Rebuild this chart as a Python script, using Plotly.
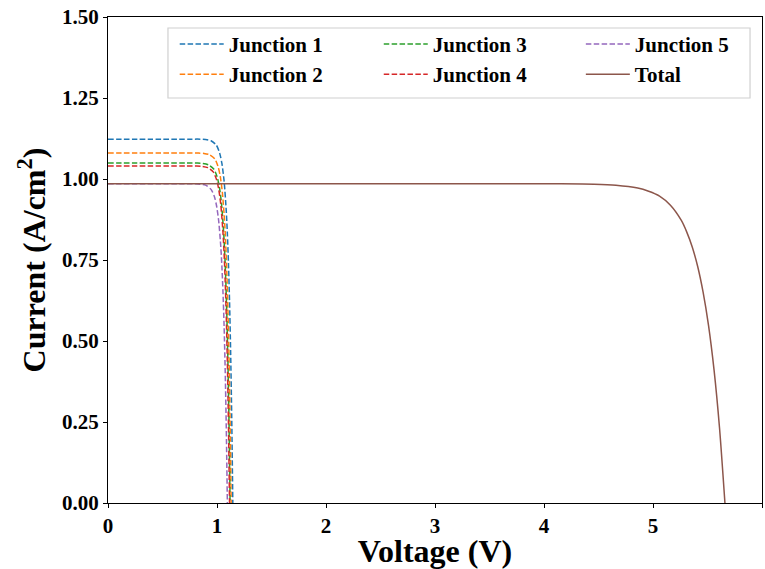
import plotly.graph_objects as go

# Junction I-V data
j1_v = [0, 0.745, 0.845, 0.895, 0.945, 0.995, 1.025, 1.045, 1.065, 1.085, 1.095, 1.105, 1.115, 1.125, 1.135, 1.145]
j1_i = [1.123, 1.123, 1.123, 1.122, 1.118, 1.104, 1.079, 1.048, 0.994, 0.901, 0.832, 0.741, 0.623, 0.468, 0.266, 0]
j2_v = [0, 0.73, 0.83, 0.88, 0.93, 0.98, 1.01, 1.03, 1.05, 1.07, 1.08, 1.09, 1.10, 1.11, 1.12, 1.13]
j2_i = [1.080, 1.080, 1.080, 1.079, 1.075, 1.062, 1.038, 1.008, 0.956, 0.866, 0.800, 0.713, 0.599, 0.450, 0.256, 0]
j3_v = [0, 0.72, 0.82, 0.87, 0.92, 0.97, 1.00, 1.02, 1.04, 1.06, 1.07, 1.08, 1.09, 1.10, 1.11, 1.12]
j3_i = [1.049, 1.049, 1.049, 1.048, 1.044, 1.031, 1.008, 0.979, 0.928, 0.841, 0.777, 0.692, 0.582, 0.437, 0.249, 0]
j4_v = [0, 0.715, 0.815, 0.865, 0.915, 0.965, 0.995, 1.015, 1.035, 1.055, 1.065, 1.075, 1.085, 1.095, 1.105, 1.115]
j4_i = [1.040, 1.040, 1.040, 1.039, 1.035, 1.022, 0.999, 0.970, 0.920, 0.834, 0.771, 0.686, 0.577, 0.434, 0.246, 0]
j5_v = [0, 0.695, 0.795, 0.845, 0.895, 0.945, 0.975, 0.995, 1.015, 1.035, 1.045, 1.055, 1.065, 1.075, 1.085, 1.095]
j5_i = [0.985, 0.985, 0.985, 0.984, 0.981, 0.968, 0.947, 0.919, 0.872, 0.790, 0.730, 0.650, 0.547, 0.411, 0.233, 0]
tot_v = [0, 4.16, 4.46, 4.66, 4.86, 4.96, 5.06, 5.16, 5.26, 5.31, 5.36, 5.41, 5.46, 5.51, 5.56, 5.61, 5.66]
tot_i = [0.985, 0.985, 0.984, 0.981, 0.972, 0.962, 0.947, 0.919, 0.872, 0.836, 0.790, 0.730, 0.650, 0.547, 0.411, 0.233, 0]

x_ticks = [0, 1, 2, 3, 4, 5, 6]
y_ticks = [0.0, 0.25, 0.5, 0.75, 1.0, 1.25, 1.5]
y_tick_text = ["0.00", "0.25", "0.50", "0.75", "1.00", "1.25", "1.50"]

# name, x, y, colour, dashed?, legend column
series = [
    ("Junction 1", j1_v, j1_i, "#1f77b4", True, "legend"),
    ("Junction 2", j2_v, j2_i, "#ff7f0e", True, "legend"),
    ("Junction 3", j3_v, j3_i, "#2ca02c", True, "legend2"),
    ("Junction 4", j4_v, j4_i, "#d62728", True, "legend2"),
    ("Junction 5", j5_v, j5_i, "#9467bd", True, "legend3"),
    ("Total", tot_v, tot_i, "#8c564b", False, "legend3"),
]

FONT = "Liberation Serif"
fig = go.Figure()
for name, v, i, c, dashed, leg in series:
    fig.add_trace(go.Scatter(
        x=v, y=i, name=name, mode="lines",
        line=dict(color=c, dash="5.5px,2.4px" if dashed else "solid", width=1.5,
                  shape="spline", smoothing=0.7),
        legend=leg,
    ))

axis_common = dict(
    showgrid=False, zeroline=False, showline=True, linecolor="black", linewidth=1.2,
    mirror=True, ticks="outside", ticklen=4, tickwidth=1, tickcolor="black",
    tickfont=dict(family=FONT, size=21, color="black", weight="bold"),
    automargin=False,
)
fig.update_xaxes(range=[0, 6], tickvals=x_ticks,
                 title=dict(text="<b>Voltage (V)</b>", font=dict(family=FONT, size=32, color="black"), standoff=4),
                 **axis_common)
fig.update_yaxes(range=[0, 1.5], tickvals=y_ticks, ticktext=y_tick_text,
                 title=dict(text="<b>Current (A/cm<sup>2</sup>)</b>", font=dict(family=FONT, size=32, color="black"), standoff=6),
                 **axis_common)

leg_font = dict(family=FONT, size=21, color="black", weight="bold")
leg_common = dict(orientation="v", y=0.986, xanchor="left", yanchor="top",
                  bgcolor="rgba(0,0,0,0)", borderwidth=0, font=leg_font,
                  tracegroupgap=0, itemwidth=44)

fig.update_layout(
    width=765, height=569,
    margin=dict(l=108, r=3, t=17, b=66),
    plot_bgcolor="white", paper_bgcolor="white",
    showlegend=True,
    legend=dict(x=0.102, **leg_common),
    legend2=dict(x=0.414, **leg_common),
    legend3=dict(x=0.723, **leg_common),
    shapes=[dict(type="rect", xref="paper", yref="paper",
                 x0=0.0917, x1=0.9817, y0=0.8333, y1=0.9774,
                 line=dict(color="#d0d0d0", width=1.2),
                 fillcolor="rgba(255,255,255,0.8)", layer="above")],
)

fig.write_html("out.html")
